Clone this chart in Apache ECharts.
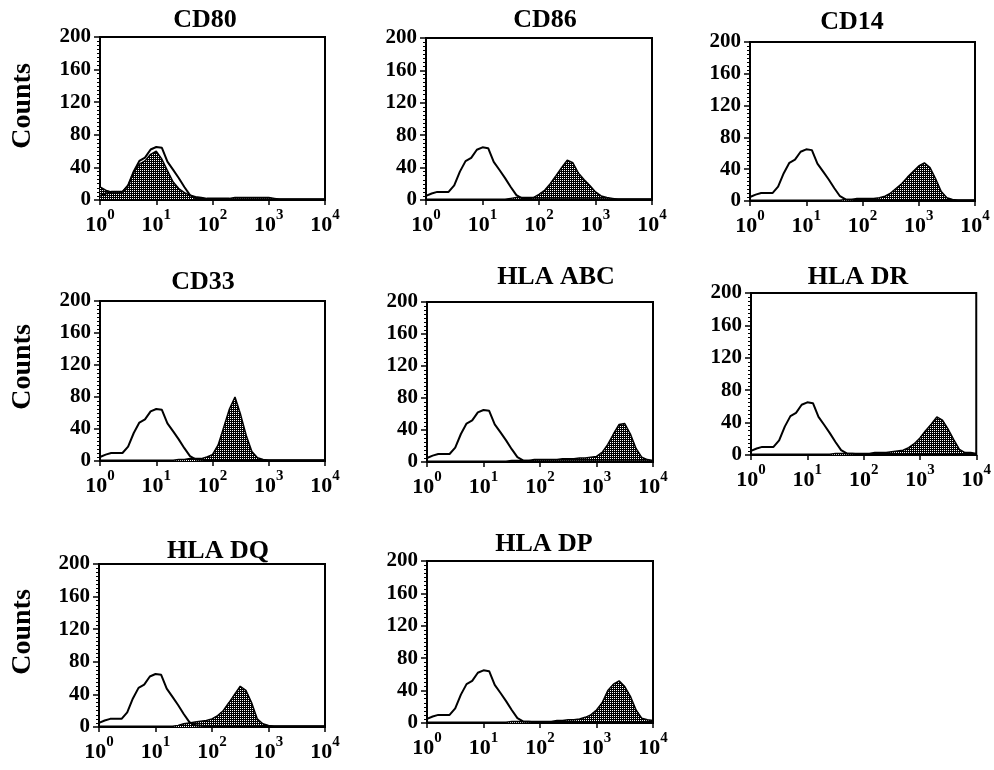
<!DOCTYPE html>
<html>
<head>
<meta charset="utf-8">
<script src="https://cdn.jsdelivr.net/npm/echarts@6/dist/echarts.min.js"></script>
<style>
html, body { margin: 0; padding: 0; background: #fff; }
#main { width: 994px; height: 770px; }
</style>
</head>
<body>
<div id="main"></div>
<script>
// fluorescence channels, 0.1 decade steps from 10^0 to 10^4
var channels = [1, 1.26, 1.58, 2, 2.51, 3.16, 3.98, 5.01, 6.31, 7.94,
    10, 12.6, 15.8, 20, 25.1, 31.6, 39.8, 50.1, 63.1, 79.4,
    100, 126, 158, 200, 251, 316, 398, 501, 631, 794,
    1000, 1259, 1585, 1995, 2512, 3162, 3981, 5012, 6310, 7943, 10000];

// isotype control (open histogram)
var control = [5, 8, 10, 10, 10, 18, 35, 48, 52, 62, 65, 64, 47, 37, 27, 16, 6, 2, 1.5, 1,
    1, 1, 1, 1, 1, 1, 1, 1, 1, 1, 1, 1, 1, 1, 1, 1, 1, 1, 1, 1, 1];

// stained (filled histograms)
var cd80 = [16, 12, 10, 10, 10, 18, 34, 44, 48, 56, 60, 50, 36, 22, 14, 9, 6, 4, 3, 2,
    2, 2, 2, 2, 3, 3, 3, 3, 3, 3, 3, 2, 1, 1, 1, 1, 1, 1, 1, 1, 1];
var cd86 = [1, 1, 1, 1, 1, 1, 1, 1, 1, 1, 1, 1, 1, 1, 1, 2, 3, 3, 3, 3,
    7, 12, 20, 30, 40, 49, 46, 33, 25, 18, 10, 5, 3, 2, 1, 1, 1, 1, 1, 1, 1];
var cd14 = [1, 1, 1, 1, 1, 1, 1, 1, 1, 1, 1, 1, 1, 1, 1, 1, 1, 2, 2, 3,
    3, 3, 3, 4, 6, 10, 16, 22, 30, 37, 44, 48, 42, 28, 12, 4, 2, 1, 1, 1, 1];
var cd33 = [1, 1, 1, 1, 1, 1, 1, 1, 1, 1, 1, 1, 1, 1, 2, 2, 3, 3, 3, 5,
    8, 20, 42, 65, 80, 58, 32, 12, 4, 2, 1, 1, 1, 1, 1, 1, 1, 1, 1, 1, 1];
var hlaAbc = [1, 1, 1, 1, 1, 1, 1, 1, 1, 1, 1, 1, 1, 1, 1, 2, 2, 2, 2, 3,
    3, 3, 3, 3, 4, 4, 4, 5, 5, 6, 7, 12, 22, 35, 47, 48, 35, 17, 6, 3, 2];
var hlaDr = [1, 1, 1, 1, 1, 1, 1, 1, 1, 1, 1, 1, 1, 1, 1, 2, 2, 2, 2, 2,
    2, 2, 3, 3, 3, 4, 5, 6, 9, 14, 21, 30, 38, 47, 43, 32, 19, 7, 3, 3, 2];
var hlaDq = [1, 1, 1, 1, 1, 1, 1, 1, 1, 1, 1, 1, 1, 1, 2, 4, 5, 6, 7, 8,
    10, 14, 20, 30, 40, 50, 45, 30, 10, 4, 2, 1, 1, 1, 1, 1, 1, 1, 1, 1, 1];
var hlaDp = [1, 1, 1, 1, 1, 1, 1, 1, 1, 1, 1, 1, 1, 1, 1, 2, 2, 2, 2, 2,
    2, 2, 2, 3, 3, 4, 4, 5, 7, 10, 16, 25, 40, 48, 52, 45, 33, 16, 6, 4, 3];

var panelNames = ['CD80', 'CD86', 'CD14', 'CD33', 'HLA ABC', 'HLA DR', 'HLA DQ', 'HLA DP'];
var panelData = [cd80, cd86, cd14, cd33, hlaAbc, hlaDr, hlaDq, hlaDp];
var yTicks = [0, 40, 80, 120, 160, 200];

// layout of the panels: [left, top, width, height]
var boxes = [
    [100, 37, 225, 163], [426, 38, 226, 162], [750, 42, 225, 159],
    [100, 301, 225, 160], [427, 302, 226, 160], [751, 293, 226, 162],
    [99, 564, 226, 163], [427, 561, 226, 162]
];
// title centres
var titlePos = [[200, 16], [540, 16], [847, 18], [198, 278], [551, 273], [853, 273], [213, 547], [539, 540]];
var countsPos = [[23, 106], [23, 367], [23, 632]];

var FONT = 'Liberation Serif';

var pat = document.createElement('canvas');
pat.width = 2;
pat.height = 2;
var pc = pat.getContext('2d');
pc.fillStyle = '#000';
pc.fillRect(0, 0, 2, 2);
pc.fillStyle = '#fff';
pc.fillRect(0, 0, 1, 1);

function pairs(arr) {
    var out = [];
    for (var i = 0; i < channels.length; i++) {
        out.push([channels[i], arr[i]]);
    }
    return out;
}

var grids = [], xAxes = [], yAxes = [], series = [], titles = [], graphics = [];

for (var i = 0; i < panelNames.length; i++) {
    var b = boxes[i];
    grids.push({
        left: b[0], top: b[1], width: b[2], height: b[3],
        show: true, borderColor: '#000', borderWidth: 2
    });
    xAxes.push({
        gridIndex: i,
        type: 'log',
        logBase: 10,
        min: 1,
        max: 10000,
        axisLine: { lineStyle: { color: '#000', width: 2 } },
        axisTick: { show: true, length: 5, lineStyle: { color: '#000', width: 1.5 } },
        splitLine: { show: false },
        axisLabel: {
            margin: 8,
            color: '#000',
            formatter: function (v) {
                var e = Math.round(Math.log(v) / Math.LN10);
                return '{b|10}{s|' + e + '}';
            },
            rich: {
                b: { fontFamily: FONT, fontWeight: 'bold', fontSize: 22, color: '#000', verticalAlign: 'bottom', lineHeight: 28 },
                s: { fontFamily: FONT, fontWeight: 'bold', fontSize: 15, color: '#000', verticalAlign: 'top', lineHeight: 28 }
            }
        }
    });
    yAxes.push({
        gridIndex: i,
        type: 'value',
        min: yTicks[0],
        max: yTicks[yTicks.length - 1],
        interval: 40,
        axisLine: { show: true, lineStyle: { color: '#000', width: 2 } },
        axisTick: { show: true, length: 6, lineStyle: { color: '#000', width: 1.5 } },
        minorTick: { show: true, splitNumber: 8, length: 3, lineStyle: { color: '#000', width: 1 } },
        splitLine: { show: false },
        axisLabel: {
            margin: 9,
            color: '#000',
            fontFamily: FONT,
            fontWeight: 'bold',
            fontSize: 21
        }
    });
    series.push({
        name: panelNames[i],
        type: 'line',
        xAxisIndex: i,
        yAxisIndex: i,
        data: pairs(panelData[i]),
        showSymbol: false,
        lineStyle: { color: '#000', width: 1.5 },
        areaStyle: { color: { image: pat, repeat: 'repeat' }, opacity: 1 },
        z: 2
    });
    series.push({
        name: 'control',
        type: 'line',
        xAxisIndex: i,
        yAxisIndex: i,
        data: pairs(control),
        showSymbol: false,
        lineStyle: { color: '#000', width: 2 },
        z: 3
    });
    titles.push({
        text: panelNames[i],
        left: titlePos[i][0],
        top: titlePos[i][1] - 14,
        textAlign: 'center',
        textStyle: { fontFamily: FONT, fontWeight: 'bold', fontSize: 26, color: '#000' }
    });
}

for (var k = 0; k < countsPos.length; k++) {
    graphics.push({
        type: 'text',
        x: countsPos[k][0],
        y: countsPos[k][1],
        rotation: Math.PI / 2,
        style: {
            text: 'Counts',
            font: 'bold 28px "' + FONT + '"',
            fill: '#000',
            textAlign: 'center',
            textVerticalAlign: 'middle'
        }
    });
}

var chart = echarts.init(document.getElementById('main'));
chart.setOption({
    backgroundColor: '#fff',
    animation: false,
    title: titles,
    grid: grids,
    xAxis: xAxes,
    yAxis: yAxes,
    series: series,
    graphic: graphics
});
</script>
</body>
</html>
